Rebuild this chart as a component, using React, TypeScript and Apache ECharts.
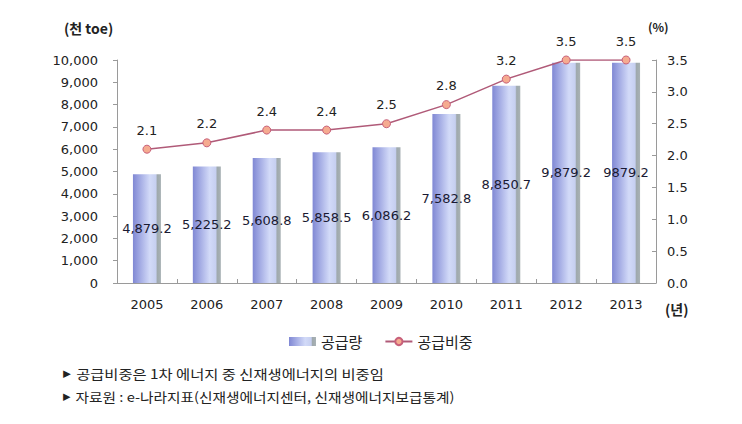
import React, { useEffect, useRef } from "react";
import * as echarts from "echarts";

const years = ["2005", "2006", "2007", "2008", "2009", "2010", "2011", "2012", "2013"];
const supply = [4879.2, 5225.2, 5608.8, 5858.5, 6086.2, 7582.8, 8850.7, 9879.2, 9879.2];
const supplyLabels = ["4,879.2", "5,225.2", "5,608.8", "5,858.5", "6,086.2", "7,582.8", "8,850.7", "9,879.2", "9879.2"];
const share = [2.1, 2.2, 2.4, 2.4, 2.5, 2.8, 3.2, 3.5, 3.5];
const notes = [
  "공급비중은 1차 에너지 중 신재생에너지의 비중임",
  "자료원 : e-나라지표(신재생에너지센터, 신재생에너지보급통계)",
];

const FONT = "'Noto Sans CJK KR', 'Noto Sans', sans-serif";
const NUM = "'DejaVu Sans', 'Noto Sans CJK KR', sans-serif";

export default function App() {
  const ref = useRef<HTMLDivElement>(null);
  useEffect(() => {
    if (!ref.current) return;
    const chart = echarts.init(ref.current, null, { renderer: "svg" });
    const barGrad = new echarts.graphic.LinearGradient(0, 0, 1, 0, [
      { offset: 0, color: "#8088d4" },
      { offset: 0.6, color: "#d2daf8" },
      { offset: 0.82, color: "#c6cff0" },
      { offset: 0.87, color: "#9fa9ad" },
      { offset: 1, color: "#a9b2b5" },
    ]);
    const noteRich = {
      t: { fontSize: 8, fontFamily: FONT, fill: "#222", padding: [0, 4, 0, 0] },
      s: { fontSize: 13, fontFamily: FONT, fill: "#222" },
    };
    chart.setOption({
      animation: false,
      textStyle: { fontFamily: NUM },
      grid: { left: 117, right: 86, top: 60, bottom: 141 },
      legend: {
        left: 284,
        top: 329,
        itemWidth: 27,
        itemHeight: 9,
        itemGap: 22,
        textStyle: { fontSize: 15, color: "#222", fontFamily: FONT },
        data: [
          { name: "공급량", icon: "rect" },
          { name: "공급비중" },
        ],
      },
      xAxis: {
        type: "category",
        data: years,
        axisLine: { lineStyle: { color: "#9a9a9a" } },
        axisTick: { show: true, inside: true, length: 4, lineStyle: { color: "#9a9a9a" } },
        axisLabel: { color: "#222", fontSize: 13, margin: 15, fontFamily: NUM },
      },
      yAxis: [
        {
          type: "value",
          min: 0,
          max: 10000,
          interval: 1000,
          axisLine: { show: true, lineStyle: { color: "#9a9a9a" } },
          axisTick: { show: true, length: 4, lineStyle: { color: "#9a9a9a" } },
          splitLine: { show: false },
          axisLabel: {
            color: "#222",
            fontSize: 13,
            margin: 19,
            fontFamily: NUM,
            formatter: (v: number) => v.toLocaleString("en-US"),
          },
        },
        {
          type: "value",
          min: 0,
          max: 3.5,
          interval: 0.5,
          position: "right",
          axisLine: { show: true, lineStyle: { color: "#9a9a9a" } },
          axisTick: { show: true, inside: true, length: 4, lineStyle: { color: "#9a9a9a" } },
          splitLine: { show: false },
          axisLabel: {
            color: "#222",
            fontSize: 13,
            margin: 11,
            fontFamily: NUM,
            formatter: (v: number) => v.toFixed(1),
          },
        },
      ],
      series: [
        {
          name: "공급량",
          type: "bar",
          data: supply,
          barWidth: 28,
          itemStyle: { color: barGrad },
          label: {
            show: true,
            position: "inside",
            color: "#1a1a33",
            fontSize: 13,
            fontFamily: NUM,
            formatter: (p: any) => supplyLabels[p.dataIndex],
          },
        },
        {
          name: "공급비중",
          type: "line",
          yAxisIndex: 1,
          data: share,
          symbol: "circle",
          symbolSize: 8,
          lineStyle: { color: "#b05a78", width: 1.5 },
          itemStyle: { color: "#f5ab90", borderColor: "#c8607a", borderWidth: 1 },
          label: {
            show: true,
            position: "top",
            distance: 8,
            color: "#222",
            fontSize: 13,
            fontFamily: NUM,
            formatter: (p: any) => p.value.toFixed(1),
          },
        },
      ],
      graphic: [
        { type: "text", left: 64, top: 21, style: { text: "(천 toe)", font: `bold 14px ${FONT}`, fill: "#222" } },
        { type: "text", left: 648, top: 20, style: { text: "(%)", font: `bold 12px ${FONT}`, fill: "#222" } },
        { type: "text", left: 665, top: 302, style: { text: "(년)", font: `bold 14px ${FONT}`, fill: "#222" } },
        {
          type: "text", x: 62, y: 367, scaleX: 1.18,
          style: { text: `{t|▶}{s|${notes[0]}}`, rich: noteRich, font: `13px ${FONT}`, fill: "#222" },
        },
        {
          type: "text", x: 62, y: 390, scaleX: 1.13,
          style: { text: `{t|▶}{s|${notes[1]}}`, rich: noteRich, font: `13px ${FONT}`, fill: "#222" },
        },
      ],
    });
    return () => chart.dispose();
  }, []);
  return <div ref={ref} style={{ width: 742, height: 424, position: "absolute", left: 0, top: 0 }} />;
}
